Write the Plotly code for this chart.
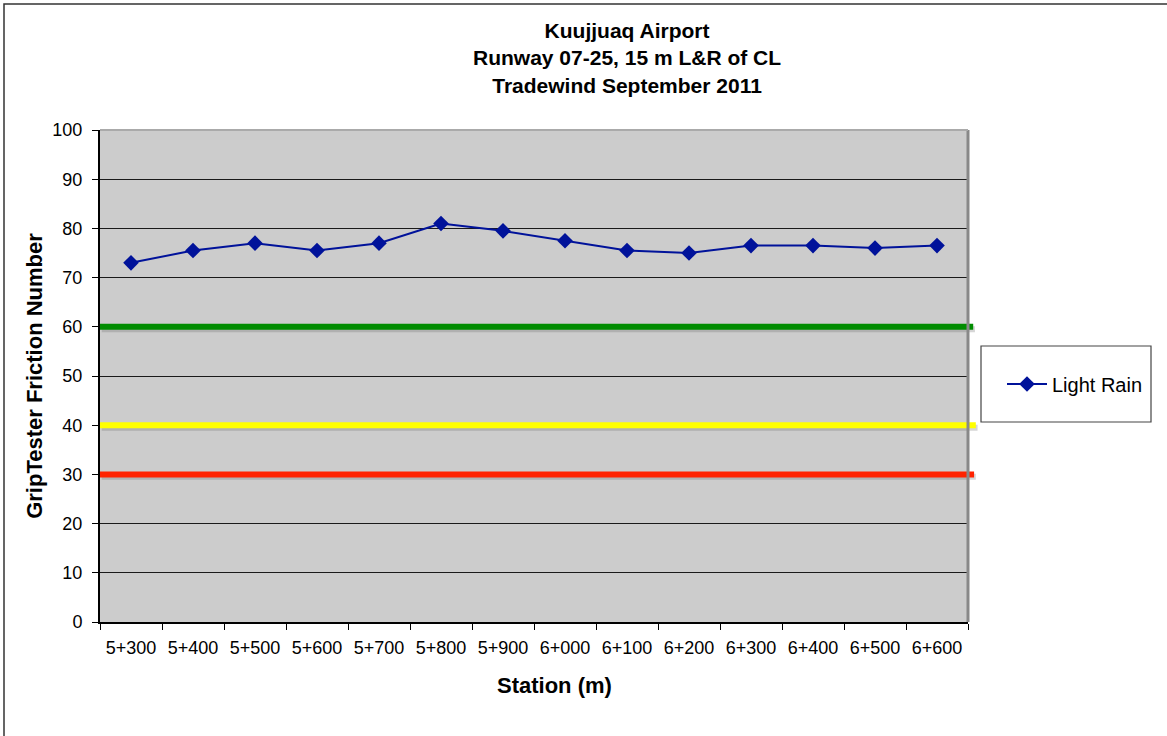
import plotly.graph_objects as go

stations = ["5+300", "5+400", "5+500", "5+600", "5+700", "5+800", "5+900",
            "6+000", "6+100", "6+200", "6+300", "6+400", "6+500", "6+600"]
light_rain = [73, 75.5, 77, 75.5, 77, 81, 79.5, 77.5, 75.5, 75, 76.5, 76.5, 76, 76.5]

threshold_values = [60, 40, 30]
threshold_colors = ["#008c00", "#ffff00", "#ff2200"]
threshold_ends = [1.006, 1.009, 1.007]

W, H = 1167, 736
L, R, T, B = 100, 199, 130, 114
pw, ph = W - L - R, H - T - B


def px_x(p):
    return (p - L) / pw


def px_y(p):
    return 1 - (p - T) / ph


FONT = "Liberation Sans, Arial, sans-serif"

fig = go.Figure()
fig.add_trace(go.Scatter(
    x=stations, y=light_rain, mode="lines+markers", name="Light Rain",
    line=dict(color="#00129a", width=2),
    marker=dict(symbol="diamond", size=12, color="#00129a"),
))

shapes = []
for val, col, x1 in zip(threshold_values, threshold_colors, threshold_ends):
    # soft shadow under each threshold line
    shapes.append(dict(type="line", xref="paper", yref="y", x0=0.002, x1=x1 + 0.002,
                       y0=val - 0.5, y1=val - 0.5,
                       line=dict(color="rgba(90,90,90,0.25)", width=6), layer="above"))
    shapes.append(dict(type="line", xref="paper", yref="y", x0=0, x1=x1,
                       y0=val, y1=val, line=dict(color=col, width=6), layer="above"))

# outer chart border (only top and left are visible)
shapes.append(dict(type="rect", xref="paper", yref="paper",
                   x0=px_x(4), x1=px_x(W + 20), y0=px_y(H + 20), y1=px_y(4),
                   line=dict(color="#333333", width=1.5), layer="below"))
# legend box
shapes.append(dict(type="rect", xref="paper", yref="paper",
                   x0=px_x(981), x1=px_x(1151), y0=px_y(422), y1=px_y(346),
                   line=dict(color="#444444", width=1.2), fillcolor="white", layer="below"))
# right and top plot edges
shapes.append(dict(type="line", xref="paper", yref="paper", x0=1, x1=1, y0=0, y1=1,
                   line=dict(color="#888888", width=3)))
shapes.append(dict(type="line", xref="paper", yref="paper", x0=0, x1=1, y0=1, y1=1,
                   line=dict(color="#aaaaaa", width=2)))

fig.update_layout(
    width=W, height=H,
    margin=dict(l=L, r=R, t=T, b=B),
    paper_bgcolor="white",
    plot_bgcolor="#cccccc",
    font=dict(family=FONT, color="black", size=18),
    xaxis=dict(
        type="category", tickson="boundaries", range=[-0.5, len(stations) - 0.5],
        showgrid=False, showline=True, linecolor="black", linewidth=2,
        ticks="outside", ticklen=6, tickcolor="black", ticklabelstandoff=8,
        tickfont=dict(size=18),
    ),
    yaxis=dict(
        range=[0, 100], dtick=10, showgrid=True, gridcolor="#1a1a1a", gridwidth=1,
        showline=True, linecolor="black", linewidth=2,
        ticks="outside", ticklen=6, tickcolor="black", ticklabelstandoff=6,
        tickfont=dict(size=18), zeroline=False,
        title=dict(text="<b>GripTester Friction Number</b>", font=dict(size=22), standoff=4),
    ),
    legend=dict(
        x=px_x(1002), xanchor="left", y=px_y(384), yanchor="middle",
        borderwidth=0, bgcolor="rgba(0,0,0,0)",
        font=dict(size=20), itemwidth=40,
    ),
    showlegend=True,
    shapes=shapes,
    annotations=[
        dict(
            text="<b>Kuujjuaq Airport<br>Runway 07-25, 15 m L&R of CL<br>Tradewind September 2011</b>",
            xref="paper", yref="paper", x=px_x(627), y=px_y(17),
            xanchor="center", yanchor="top", showarrow=False,
            font=dict(size=21, family=FONT), align="center",
        ),
        dict(
            text="<b>Station (m)</b>",
            xref="paper", yref="paper", x=px_x(554), y=px_y(685),
            xanchor="center", yanchor="middle", showarrow=False,
            font=dict(size=22, family=FONT),
        ),
    ],
)

fig.write_html("out.html", config={"displayModeBar": False},
               post_script="document.body.style.margin='0';")
